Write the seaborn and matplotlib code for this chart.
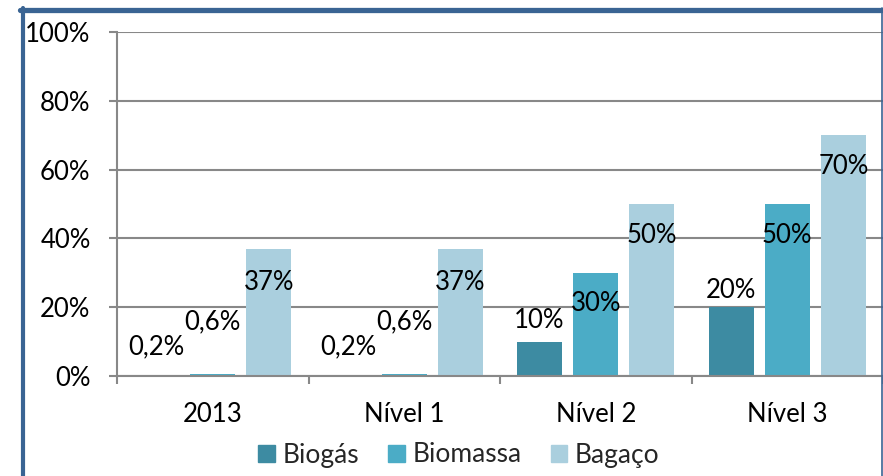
import matplotlib
matplotlib.use("Agg")
import matplotlib.pyplot as plt
import seaborn as sns
import pandas as pd
from matplotlib.lines import Line2D
from matplotlib.ticker import PercentFormatter

categories = ["2013", "Nível 1", "Nível 2", "Nível 3"]
series = ["Biogás", "Biomassa", "Bagaço"]
biogas = [0.002, 0.002, 0.10, 0.20]
biomassa = [0.006, 0.006, 0.30, 0.50]
bagaco = [0.37, 0.37, 0.50, 0.70]
labels_biogas = ["0,2%", "0,2%", "10%", "20%"]
labels_biomassa = ["0,6%", "0,6%", "30%", "50%"]
labels_bagaco = ["37%", "37%", "50%", "70%"]

# label anchor heights (layout, in axis units)
label_y_biogas = [0.084, 0.084, 0.160, 0.250]
label_y_biomassa = [0.157, 0.157, 0.212, 0.407]
label_y_bagaco = [0.273, 0.273, 0.407, 0.608]

colors = ["#3d8ba2", "#4bacc6", "#aacfde"]

df = pd.DataFrame({
    "cat": categories * 3,
    "serie": [series[0]] * 4 + [series[1]] * 4 + [series[2]] * 4,
    "val": biogas + biomassa + bagaco,
})

sns.set_theme(style="white")
plt.rcParams["font.family"] = ["Lato", "DejaVu Sans"]

FS = 18.5

fig = plt.figure(figsize=(8.83, 4.76), dpi=100)
ax = fig.add_axes([117 / 883, 1 - 376 / 476, 1 - 117 / 883, 344 / 476])

sns.barplot(data=df, x="cat", y="val", hue="serie", hue_order=series,
            palette=colors, width=0.88, gap=0.2, saturation=1,
            ax=ax, legend=False, linewidth=0)

ax.set_ylim(0, 1)
ax.set_xlim(-0.5, 3.5)
ax.set_yticks([0, 0.2, 0.4, 0.6, 0.8, 1.0])
ax.yaxis.set_major_formatter(PercentFormatter(1.0, decimals=0))
ax.set_xlabel("")
ax.set_ylabel("")
ax.grid(axis="y", color="#888888", linewidth=1.5)
ax.set_axisbelow(True)
for s in ["top", "right"]:
    ax.spines[s].set_visible(False)
for s in ["left", "bottom"]:
    ax.spines[s].set_color("#888888")
    ax.spines[s].set_linewidth(1.5)

ax.set_xticks([-0.5, 0.5, 1.5, 2.5, 3.5], minor=False)
ax.set_xticklabels([])
ax.set_xticks([0, 1, 2, 3], minor=True)
ax.set_xticklabels(categories, minor=True)
ax.tick_params(axis="x", which="major", direction="out", length=6, width=1.5,
               color="#888888", bottom=True)
ax.tick_params(axis="x", which="minor", length=0, pad=19, labelsize=FS,
               labelcolor="black")
ax.tick_params(axis="y", direction="out", length=6, width=1.5, color="#888888",
               left=True, pad=13, labelsize=FS, labelcolor="black")

offs = [-0.2933, 0.0, 0.2933]
for k, (labs, ys) in enumerate([(labels_biogas, label_y_biogas),
                                (labels_biomassa, label_y_biomassa),
                                (labels_bagaco, label_y_bagaco)]):
    for i, (t, y) in enumerate(zip(labs, ys)):
        ax.text(i + offs[k], y, t, ha="center", va="center", fontsize=FS,
                color="black", clip_on=False, zorder=5)

handles = [plt.Rectangle((0, 0), 1, 1, color=c) for c in colors]
fig.legend(handles, series, loc="center", bbox_to_anchor=(459 / 883, 1 - 455 / 476),
           ncol=3, frameon=False, fontsize=19, handlelength=0.62,
           handleheight=0.62, handletextpad=0.3, columnspacing=1.1,
           borderaxespad=0, borderpad=0)

frame_c = "#3a6493"
fig.add_artist(Line2D([20 / 883, 882 / 883], [1 - 10 / 476, 1 - 10 / 476],
                      transform=fig.transFigure, color=frame_c, linewidth=3.8))
fig.add_artist(Line2D([22.5 / 883, 22.5 / 883], [0, 1 - 8 / 476],
                      transform=fig.transFigure, color=frame_c, linewidth=3.0))
fig.add_artist(Line2D([881.5 / 883, 881.5 / 883], [0, 1 - 8 / 476],
                      transform=fig.transFigure, color=frame_c, linewidth=1.2))

fig.savefig("out.png", dpi=100)
